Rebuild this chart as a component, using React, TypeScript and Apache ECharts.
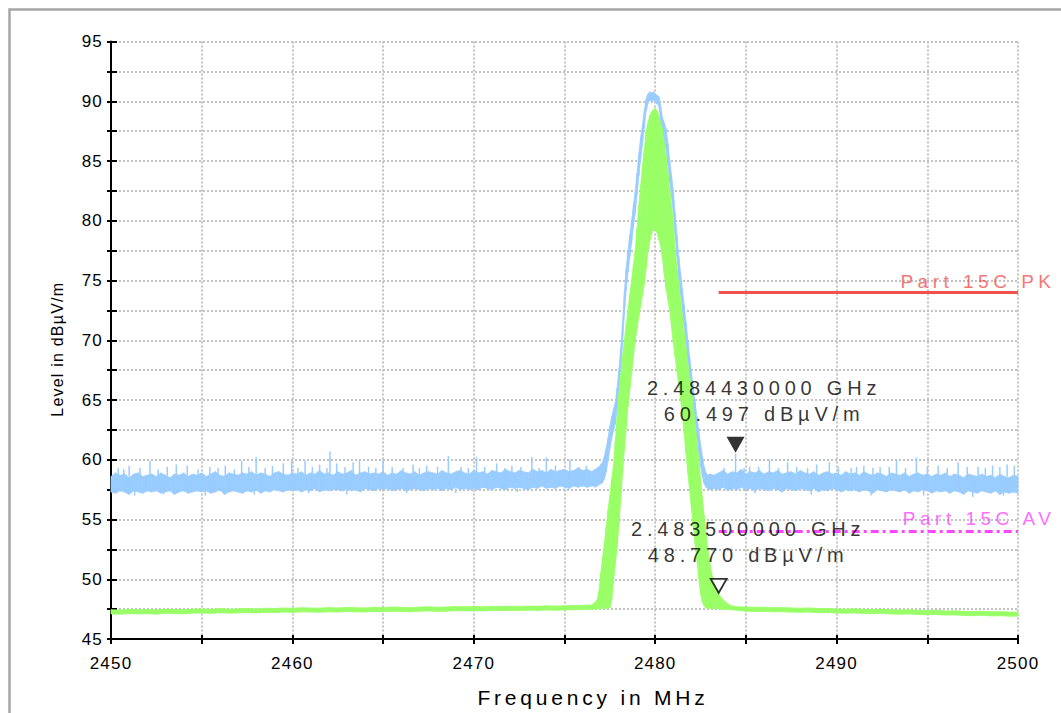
import React, { useEffect, useRef } from "react";
import * as echarts from "echarts";

const FONT = '"Liberation Sans", Arial, Helvetica, sans-serif';

// ---------- axes ----------
const freqMin = 2450;
const freqMax = 2500;
const freqTickStep = 5;
const freqLabelStep = 10;
const levelMin = 45;
const levelMax = 95;
const levelTickStep = 2.5;
const levelLabelStep = 5;
const xAxisName = "Frequency in MHz";
const yAxisName = "Level in dBµV/m";

// ---------- PK trace (light blue): upper / lower envelope of the noisy sweep ----------
const pkLeftStart = 2450;
const pkLeftStep = 0.25;
const pkLeftHigh = [
  58.6, 58.9, 58.7, 58.8, 58.5, 58.8, 58.9, 58.6, 58.7, 58.8,
  58.6, 58.9, 58.7, 58.5, 58.8, 58.7, 58.9, 58.6, 58.8, 58.7,
  58.9, 58.6, 58.8, 59.0, 58.7, 58.6, 58.9, 58.8, 58.7, 58.9,
  58.8, 59.0, 58.7, 58.9, 58.8, 58.6, 58.9, 59.0, 58.8, 58.7,
  58.9, 58.8, 59.0, 58.7, 58.9, 58.8, 59.1, 58.8, 58.9, 58.7,
  59.0, 58.8, 58.9, 59.1, 58.7, 58.9, 59.0, 58.8, 58.9, 58.8,
  59.0, 58.7, 58.9, 58.8, 59.1, 58.9, 58.8, 59.0, 58.7, 58.9,
  59.0, 58.9, 58.8, 59.1, 58.9, 58.8, 59.0, 59.1, 58.9, 58.8,
  59.1, 58.9, 59.0, 58.8, 59.1, 59.0, 58.9, 59.2, 59.0, 58.9,
  59.1, 59.0, 58.9, 59.2, 59.0, 59.1, 58.9, 59.2, 59.0, 59.1,
  59.2, 59.0, 59.1, 59.3, 59.1, 59.2, 59.0,
];
const pkLeftLow = [
  57.3, 57.2, 57.4, 57.3, 57.1, 57.4, 57.3, 57.2, 57.4, 57.3,
  57.4, 57.2, 57.3, 57.4, 57.1, 57.3, 57.4, 57.2, 57.3, 57.4,
  57.3, 57.4, 57.2, 57.3, 57.5, 57.1, 57.3, 57.4, 57.3, 57.2,
  57.4, 57.3, 57.5, 57.2, 57.4, 57.3, 57.5, 57.4, 57.3, 57.5,
  57.4, 57.5, 57.3, 57.5, 57.4, 57.6, 57.3, 57.5, 57.4, 57.5,
  57.5, 57.4, 57.6, 57.4, 57.5, 57.3, 57.6, 57.5, 57.4, 57.6,
  57.5, 57.6, 57.4, 57.5, 57.6, 57.4, 57.5, 57.6, 57.5, 57.4,
  57.6, 57.5, 57.6, 57.4, 57.6, 57.5, 57.7, 57.5, 57.6, 57.5,
  57.6, 57.5, 57.7, 57.6, 57.5, 57.7, 57.6, 57.5, 57.7, 57.6,
  57.7, 57.6, 57.5, 57.7, 57.6, 57.8, 57.6, 57.7, 57.6, 57.8,
  57.7, 57.6, 57.8, 57.7, 57.8, 57.7, 57.8,
];
const pkPeakStart = 2476.6;
const pkPeakStep = 0.1;
const pkPeakHigh = [
  59.1, 59.2, 59.3, 59.4,
  59.6, 59.8, 60.3, 61.0, 61.8, 62.8, 63.6, 64.2, 64.8, 66.0,
  67.6, 69.3, 71.5, 74.0, 76.0, 77.5, 78.8, 80.0, 81.3, 82.5,
  84.0, 85.6, 87.0, 88.0, 89.2, 90.2, 90.6, 90.8, 90.7, 90.8,
  90.6, 90.5, 90.4, 89.6, 88.6, 88.2, 87.7, 86.5, 85.0, 83.8,
  82.5, 80.6, 78.8, 77.0, 75.6, 74.2, 72.9, 71.5, 70.0, 68.6,
  67.3, 66.0, 64.8, 63.6, 62.4, 61.3, 60.3, 59.4, 58.9, 58.7,
  58.8,
];
const pkPeakLow = [
  57.8, 57.7, 57.8, 57.9,
  58.0, 58.1, 58.4, 59.0, 59.9, 60.9, 61.8, 62.4, 63.0, 64.2,
  65.8, 67.5, 69.7, 72.2, 74.2, 75.7, 77.0, 78.2, 79.5, 80.7,
  82.2, 83.8, 85.2, 86.4, 87.8, 89.2, 89.8, 90.1, 90.0, 90.1,
  89.9, 89.8, 89.6, 88.4, 87.2, 86.6, 86.0, 84.7, 83.2, 82.0,
  80.7, 78.8, 77.0, 75.2, 73.8, 72.4, 71.1, 69.7, 68.2, 66.8,
  65.5, 64.2, 63.0, 61.8, 60.6, 59.5, 58.6, 58.0, 57.7, 57.6,
  57.5,
];
const pkRightStart = 2483.25;
const pkRightStep = 0.25;
const pkRightHigh = [
  58.7, 58.9, 59.1, 58.8, 59.0, 58.9, 59.2, 58.8, 59.0, 58.9,
  59.1, 58.8, 59.0, 58.9, 59.1, 58.8, 58.9, 59.0, 58.8, 59.1,
  58.9, 58.8, 59.0, 58.7, 58.9, 59.0, 58.8, 58.9, 58.7, 59.0,
  58.8, 58.9, 58.7, 59.0, 58.8, 58.7, 58.9, 58.8, 58.6, 58.9,
  58.8, 58.7, 58.9, 58.6, 58.8, 58.9, 58.7, 58.8, 58.6, 58.8,
  58.7, 58.9, 58.6, 58.8, 58.7, 58.5, 58.8, 58.7, 58.6, 58.8,
  58.6, 58.7, 58.5, 58.8, 58.6, 58.5, 58.7, 58.6,
];
const pkRightLow = [
  57.6, 57.5, 57.7, 57.4, 57.6, 57.5, 57.7, 57.5, 57.6, 57.4,
  57.6, 57.5, 57.4, 57.6, 57.5, 57.3, 57.6, 57.5, 57.4, 57.6,
  57.5, 57.4, 57.6, 57.3, 57.5, 57.4, 57.6, 57.5, 57.3, 57.5,
  57.4, 57.5, 57.3, 57.5, 57.4, 57.2, 57.5, 57.4, 57.3, 57.5,
  57.4, 57.3, 57.5, 57.2, 57.4, 57.3, 57.5, 57.4, 57.2, 57.4,
  57.3, 57.4, 57.2, 57.4, 57.3, 57.1, 57.4, 57.3, 57.2, 57.4,
  57.3, 57.2, 57.4, 57.1, 57.3, 57.2, 57.3, 57.2,
];
// narrow spikes of the PK sweep: [frequency MHz, from dBµV/m, to dBµV/m]
const pkSpikes = [
  [2450.4, 58.6, 59.3], [2450.7, 58.6, 59.2], [2451.0, 58.6, 59.5], [2451.6, 58.6, 59.3],
  [2452.15, 58.6, 59.9], [2452.6, 58.6, 59.2], [2453.1, 58.6, 59.4], [2453.6, 58.6, 59.6],
  [2454.2, 58.6, 59.5], [2454.8, 58.6, 59.2], [2455.45, 58.6, 59.4], [2455.9, 58.6, 59.3],
  [2456.3, 58.6, 59.5], [2456.8, 58.6, 59.2], [2457.2, 58.6, 59.9], [2457.6, 58.6, 59.4],
  [2458.0, 58.6, 60.2], [2458.5, 58.6, 59.3], [2458.9, 58.6, 59.5], [2459.5, 58.6, 59.7],
  [2459.96, 58.6, 60.0], [2460.3, 58.6, 59.3], [2460.7, 58.6, 59.9], [2461.1, 58.6, 59.4],
  [2461.5, 58.6, 59.6], [2461.9, 58.6, 59.3], [2462.07, 58.6, 60.7], [2462.44, 58.6, 59.7],
  [2462.9, 58.6, 59.4], [2463.35, 58.6, 59.8], [2463.7, 58.6, 60.0], [2464.2, 58.6, 59.4],
  [2464.6, 58.6, 59.3], [2465.0, 58.6, 60.0], [2465.5, 58.6, 59.4], [2466.1, 58.6, 59.3],
  [2466.65, 58.6, 59.6], [2467.0, 58.6, 59.3], [2467.4, 58.6, 59.5], [2468.0, 58.6, 59.4],
  [2468.6, 58.6, 60.3], [2469.3, 58.6, 59.4], [2469.7, 58.6, 59.3], [2470.15, 58.6, 60.2],
  [2470.6, 58.6, 59.4], [2471.26, 58.6, 59.7], [2471.7, 58.6, 59.3], [2472.1, 58.6, 59.5],
  [2472.6, 58.6, 59.4], [2473.2, 58.6, 60.2], [2473.6, 58.6, 59.3], [2474.0, 58.6, 60.2],
  [2474.5, 58.6, 59.5], [2475.3, 58.6, 60.0], [2475.8, 58.6, 59.4], [2476.2, 58.6, 59.5],
  [2483.8, 58.6, 59.3], [2484.43, 58.6, 60.497], [2484.9, 58.6, 59.3], [2485.2, 58.6, 59.4],
  [2485.7, 58.6, 59.4], [2486.3, 58.6, 60.0], [2486.8, 58.6, 59.3], [2487.3, 58.6, 59.8],
  [2487.8, 58.6, 59.4], [2488.4, 58.6, 59.3], [2488.9, 58.6, 59.6], [2489.6, 58.6, 59.8],
  [2490.1, 58.6, 59.4], [2490.8, 58.6, 59.3], [2491.1, 58.6, 59.4], [2491.5, 58.6, 59.5],
  [2492.0, 58.6, 59.3], [2492.4, 58.6, 59.4], [2492.9, 58.6, 59.4], [2493.3, 58.6, 60.0],
  [2493.8, 58.6, 59.3], [2494.4, 58.6, 60.2], [2495.0, 58.6, 59.4], [2495.6, 58.6, 59.5],
  [2496.1, 58.6, 59.3], [2496.7, 58.6, 59.8], [2497.2, 58.6, 59.4], [2497.8, 58.6, 59.4],
  [2498.2, 58.6, 59.3], [2498.6, 58.6, 59.5], [2499.0, 58.6, 59.4], [2499.4, 58.6, 59.6],
  [2499.8, 58.6, 59.5],
  // downward dips
  [2451.3, 57.6, 57.0], [2452.9, 57.6, 57.1], [2455.2, 57.6, 57.0], [2457.9, 57.6, 57.1],
  [2460.9, 57.6, 57.2], [2463.0, 57.6, 57.1], [2466.3, 57.6, 57.2], [2469.0, 57.6, 57.2],
  [2472.4, 57.6, 57.3], [2475.0, 57.6, 57.4], [2485.5, 57.6, 57.2], [2488.6, 57.6, 57.1],
  [2491.9, 57.6, 57.0], [2494.8, 57.6, 57.0], [2497.5, 57.6, 56.9], [2499.2, 57.6, 57.0],
];

// ---------- AV trace (green): upper / lower envelope ----------
const avLeftStart = 2450;
const avLeftStep = 0.5;
const avLeftHigh = [
  47.45, 47.42, 47.48, 47.44, 47.46, 47.43, 47.5, 47.47, 47.45, 47.5,
  47.52, 47.48, 47.55, 47.5, 47.53, 47.56, 47.52, 47.58, 47.55, 47.6,
  47.57, 47.62, 47.6, 47.58, 47.63, 47.6, 47.65, 47.62, 47.6, 47.66,
  47.63, 47.68, 47.65, 47.62, 47.67, 47.7, 47.66, 47.68, 47.72, 47.7,
  47.72, 47.7, 47.74, 47.72, 47.75, 47.73, 47.76, 47.74, 47.78, 47.75,
  47.78, 47.8, 47.82,
];
const avLeftLow = [
  47.1, 47.08, 47.12, 47.1, 47.12, 47.08, 47.15, 47.12, 47.1, 47.16,
  47.18, 47.14, 47.2, 47.16, 47.18, 47.22, 47.17, 47.24, 47.2, 47.26,
  47.22, 47.27, 47.25, 47.23, 47.28, 47.25, 47.3, 47.27, 47.25, 47.31,
  47.28, 47.33, 47.3, 47.27, 47.32, 47.35, 47.31, 47.33, 47.37, 47.35,
  47.37, 47.35, 47.39, 47.37, 47.4, 47.38, 47.41, 47.39, 47.43, 47.4,
  47.43, 47.45, 47.47,
];
const avPeakStart = 2476.5;
const avPeakStep = 0.1;
const avPeakHigh = [
  47.85, 47.95, 48.1, 48.3, 49.0, 50.5, 51.8, 53.0, 54.4, 55.8,
  57.0, 58.3, 59.5, 61.5, 63.5, 65.5, 67.1, 68.6, 70.0, 71.3,
  72.5, 73.8, 75.0, 76.3, 77.5, 79.4, 81.3, 83.0, 84.6, 86.0,
  87.5, 88.2, 88.8, 89.1, 89.3, 89.4, 89.2, 88.8, 88.2, 87.7,
  86.5, 85.4, 84.0, 82.5, 81.2, 80.0, 77.5, 76.0, 74.6, 73.3,
  72.0, 70.6, 69.3, 68.0, 66.9, 65.7, 64.5, 63.0, 61.5, 60.0,
  58.4, 56.8, 55.3, 53.8, 52.5, 51.5, 50.6, 49.9, 49.4, 49.1,
  48.77, 48.55, 48.35, 48.2, 48.05, 47.95, 47.85, 47.8, 47.75, 47.72,
  47.7,
];
const avPeakLow = [
  47.48, 47.5, 47.5, 47.52, 47.52, 47.53, 47.55, 47.55, 47.57, 47.58,
  47.6, 48.3, 49.8, 51.3, 52.7, 54.5, 56.7, 58.9, 60.8, 62.6,
  64.5, 65.9, 67.3, 68.6, 70.0, 71.0, 72.0, 72.9, 73.8, 74.7,
  76.0, 77.5, 78.3, 78.9, 79.2, 79.3, 79.0, 78.4, 77.9, 76.8,
  75.5, 74.3, 73.4, 72.5, 71.1, 69.8, 68.6, 67.4, 66.2, 65.0,
  63.8, 62.2, 60.5, 58.9, 57.4, 55.9, 54.4, 53.0, 51.6, 50.1,
  48.8, 48.1, 47.75, 47.6, 47.58, 47.56, 47.55, 47.55, 47.54, 47.53,
  47.52, 47.5, 47.5, 47.49, 47.48, 47.47, 47.45, 47.44, 47.43, 47.42,
  47.4,
];
const avRightStart = 2485;
const avRightStep = 0.5;
const avRightHigh = [
  47.68, 47.66, 47.65, 47.62, 47.63, 47.6, 47.58, 47.6, 47.55, 47.56,
  47.52, 47.5, 47.53, 47.48, 47.46, 47.5, 47.44, 47.42, 47.45, 47.4,
  47.38, 47.4, 47.35, 47.36, 47.32, 47.3, 47.33, 47.28, 47.3, 47.26,
  47.25,
];
const avRightLow = [
  47.33, 47.31, 47.3, 47.27, 47.28, 47.25, 47.23, 47.25, 47.2, 47.21,
  47.17, 47.15, 47.18, 47.13, 47.11, 47.15, 47.09, 47.07, 47.1, 47.05,
  47.03, 47.05, 47.0, 47.01, 46.97, 46.95, 46.98, 46.93, 46.95, 46.91,
  46.9,
];

// ---------- limit lines ----------
const pkLimitName = "Part 15C PK";
const pkLimitFreq = [2483.5, 2500];
const pkLimitLevel = [74, 74];
const avLimitName = "Part 15C AV";
const avLimitFreq = [2483.5, 2500];
const avLimitLevel = [54, 54];

// ---------- markers ----------
const markerFreq = [2484.43, 2483.5]; // MHz
const markerLevel = [60.497, 48.77]; // dBµV/m

// ---------- colours ----------
const PK_COLOR = "#99ccff";
const AV_COLOR = "#99ff66";
const PK_LIMIT_COLOR = "#f35050";
const AV_LIMIT_COLOR = "#ff44ff";
const GRID_COLOR = "#c2c2c2";

function sweep(start: number, step: number, n: number): number[] {
  const out: number[] = [];
  for (let i = 0; i < n; i++) out.push(Math.round((start + i * step) * 1000) / 1000);
  return out;
}

const pkFreq = [
  ...sweep(pkLeftStart, pkLeftStep, pkLeftHigh.length),
  ...sweep(pkPeakStart, pkPeakStep, pkPeakHigh.length),
  ...sweep(pkRightStart, pkRightStep, pkRightHigh.length),
];
const pkHigh = [...pkLeftHigh, ...pkPeakHigh, ...pkRightHigh];
const pkLow = [...pkLeftLow, ...pkPeakLow, ...pkRightLow];

const avFreq = [
  ...sweep(avLeftStart, avLeftStep, avLeftHigh.length),
  ...sweep(avPeakStart, avPeakStep, avPeakHigh.length),
  ...sweep(avRightStart, avRightStep, avRightHigh.length),
];
const avHigh = [...avLeftHigh, ...avPeakHigh, ...avRightHigh];
const avLow = [...avLeftLow, ...avPeakLow, ...avRightLow];

// band between the low and high envelope, built segment by segment
function bandRenderer(freq: number[], high: number[], low: number[], color: string) {
  return (_params: any, api: any) => {
    const children: any[] = [];
    for (let i = 0; i < freq.length - 1; i++) {
      const a = api.coord([freq[i], low[i]]);
      const b = api.coord([freq[i], high[i]]);
      const c = api.coord([freq[i + 1], high[i + 1]]);
      const d = api.coord([freq[i + 1], low[i + 1]]);
      children.push({
        type: "polygon",
        shape: { points: [a, b, c, d] },
        style: { fill: color, stroke: color, lineWidth: 0.8 },
      });
    }
    return { type: "group", children };
  };
}

function spikeRenderer(color: string) {
  return (_params: any, api: any) => {
    const a = api.coord([api.value(0), api.value(1)]);
    const b = api.coord([api.value(0), api.value(2)]);
    return {
      type: "line",
      shape: { x1: a[0], y1: a[1], x2: b[0], y2: b[1] },
      style: { stroke: color, lineWidth: 1.5 },
    };
  };
}

function markerText(f: number, v: number): string {
  return (f / 1000).toFixed(9) + " GHz\n" + v.toFixed(3) + " dBµV/m";
}

const CSS = `
.emc text[style*="17px"], .emc text[font-size="17px"] { letter-spacing: 1.2px; }
.emc text[style*="16px"], .emc text[font-size="16px"] { letter-spacing: 1.2px; }
.emc text[style*="21px"], .emc text[font-size="21px"] { letter-spacing: 3.8px; }
.emc text[style*="20px"], .emc text[font-size="20px"] { letter-spacing: 4.8px; }
.emc text[style*="19px"], .emc text[font-size="19px"] { letter-spacing: 4.5px; }
`;

export default function App() {
  const ref = useRef<HTMLDivElement>(null);

  useEffect(() => {
    if (!ref.current) return;
    const chart = echarts.init(ref.current, undefined, { renderer: "svg" });

    const tickLabel = { fontFamily: FONT, fontSize: 17, color: "#000" };

    const option: any = {
      animation: false,
      backgroundColor: "#ffffff",
      graphic: [
        {
          type: "rect",
          left: 7,
          top: 7,
          shape: { x: 0, y: 0, width: 1200, height: 900 },
          style: { fill: "none", stroke: "#a6a6a6", lineWidth: 2.5 },
          silent: true,
          z: -10,
        },
      ],
      grid: { left: 111, top: 41.5, width: 907, height: 598.5, containLabel: false },
      xAxis: [
        {
          type: "value",
          min: freqMin,
          max: freqMax,
          interval: freqTickStep,
          name: xAxisName,
          nameLocation: "middle",
          nameGap: 48,
          nameTextStyle: { fontFamily: FONT, fontSize: 21, color: "#000", padding: [0, 0, 0, 57] },
          axisLine: { show: true, onZero: false, lineStyle: { color: "#000", width: 2 } },
          axisTick: { show: true, inside: false, length: 5, lineStyle: { color: "#000", width: 2 } },
          axisLabel: {
            ...tickLabel,
            margin: 16,
            formatter: (v: number) => (Math.abs(v % freqLabelStep) < 1e-6 ? String(v) : ""),
          },
          splitLine: { show: true, lineStyle: { color: GRID_COLOR, width: 2, type: [2, 2] } },
        },
        {
          type: "value",
          min: freqMin,
          max: freqMax,
          interval: freqTickStep,
          position: "bottom",
          axisLine: { show: false, onZero: false },
          axisTick: { show: true, inside: true, length: 4, lineStyle: { color: "#000", width: 2 } },
          axisLabel: { show: false },
          splitLine: { show: false },
        },
      ],
      yAxis: [
        {
          type: "value",
          min: levelMin,
          max: levelMax,
          interval: levelTickStep,
          name: yAxisName,
          nameLocation: "middle",
          nameGap: 46,
          nameRotate: 90,
          nameTextStyle: { fontFamily: FONT, fontSize: 16, color: "#000", padding: [0, 18, 0, 0] },
          axisLine: { show: true, onZero: false, lineStyle: { color: "#000", width: 2 } },
          axisTick: { show: true, inside: false, length: 4, lineStyle: { color: "#000", width: 2 } },
          axisLabel: {
            ...tickLabel,
            margin: 8,
            formatter: (v: number) => (Math.abs(v % levelLabelStep) < 1e-6 ? String(v) : ""),
          },
          splitLine: { show: true, lineStyle: { color: GRID_COLOR, width: 2, type: [2, 2] } },
        },
        {
          type: "value",
          min: levelMin,
          max: levelMax,
          interval: levelTickStep,
          position: "left",
          axisLine: { show: false, onZero: false },
          axisTick: { show: true, inside: true, length: 6, lineStyle: { color: "#000", width: 2 } },
          axisLabel: { show: false },
          splitLine: { show: false },
        },
      ],
      series: [
        {
          name: "PK",
          type: "custom",
          renderItem: bandRenderer(pkFreq, pkHigh, pkLow, PK_COLOR),
          data: [[pkFreq[0], pkHigh[0]]],
          silent: true,
          z: 2,
        },
        {
          name: "PK spikes",
          type: "custom",
          renderItem: spikeRenderer(PK_COLOR),
          encode: { x: 0, y: [1, 2] },
          data: pkSpikes,
          silent: true,
          z: 2,
        },
        {
          name: "AV",
          type: "custom",
          renderItem: bandRenderer(avFreq, avHigh, avLow, AV_COLOR),
          data: [[avFreq[0], avHigh[0]]],
          silent: true,
          z: 3,
        },
        {
          name: pkLimitName,
          type: "line",
          data: pkLimitFreq.map((f, i) => [f, pkLimitLevel[i]]),
          showSymbol: false,
          lineStyle: { color: PK_LIMIT_COLOR, width: 3 },
          silent: true,
          z: 4,
        },
        {
          name: avLimitName,
          type: "line",
          data: avLimitFreq.map((f, i) => [f, avLimitLevel[i]]),
          showSymbol: false,
          lineStyle: { color: AV_LIMIT_COLOR, width: 3, type: [8, 4, 3, 4] },
          silent: true,
          z: 4,
        },
        {
          name: "limit labels",
          type: "scatter",
          symbolSize: 1,
          itemStyle: { color: "rgba(0,0,0,0)" },
          silent: true,
          z: 5,
          data: [
            {
              value: [pkLimitFreq[1], pkLimitLevel[1]],
              label: {
                show: true,
                formatter: pkLimitName,
                position: [38, -1],
                align: "right",
                verticalAlign: "bottom",
                color: PK_LIMIT_COLOR,
                fontFamily: FONT,
                fontSize: 19,
              },
            },
            {
              value: [avLimitFreq[1], avLimitLevel[1]],
              label: {
                show: true,
                formatter: avLimitName,
                position: [38, -3],
                align: "right",
                verticalAlign: "bottom",
                color: AV_LIMIT_COLOR,
                fontFamily: FONT,
                fontSize: 19,
              },
            },
          ],
        },
        {
          name: "marker 1",
          type: "scatter",
          symbol: "triangle",
          symbolRotate: 180,
          symbolSize: [18, 16],
          symbolOffset: [0, -9],
          itemStyle: { color: "#000" },
          silent: true,
          z: 6,
          data: [[markerFreq[0], markerLevel[0]]],
        },
        {
          name: "marker 2",
          type: "scatter",
          symbol: "triangle",
          symbolRotate: 180,
          symbolSize: [16, 14],
          symbolOffset: [0, -8],
          itemStyle: { color: "#fff", borderColor: "#000", borderWidth: 1.8 },
          silent: true,
          z: 6,
          data: [[markerFreq[1], markerLevel[1]]],
        },
        {
          name: "marker texts",
          type: "scatter",
          symbolSize: 1,
          itemStyle: { color: "rgba(0,0,0,0)" },
          silent: true,
          z: 7,
          data: markerFreq.map((f, i) => ({
            value: [f, markerLevel[i]],
            label: {
              show: true,
              formatter: markerText(f, markerLevel[i]),
              position: i === 0 ? [29, -26] : [30, -25],
              align: "center",
              verticalAlign: "bottom",
              color: "#000",
              fontFamily: FONT,
              fontSize: 20,
              lineHeight: 26,
            },
          })),
        },
      ],
    };

    chart.setOption(option);
    return () => chart.dispose();
  }, []);

  return (
    <>
      <style>{CSS}</style>
      <div
        ref={ref}
        className="emc"
        style={{ position: "absolute", left: 0, top: 0, width: 1061, height: 713, background: "#fff" }}
      />
    </>
  );
}
